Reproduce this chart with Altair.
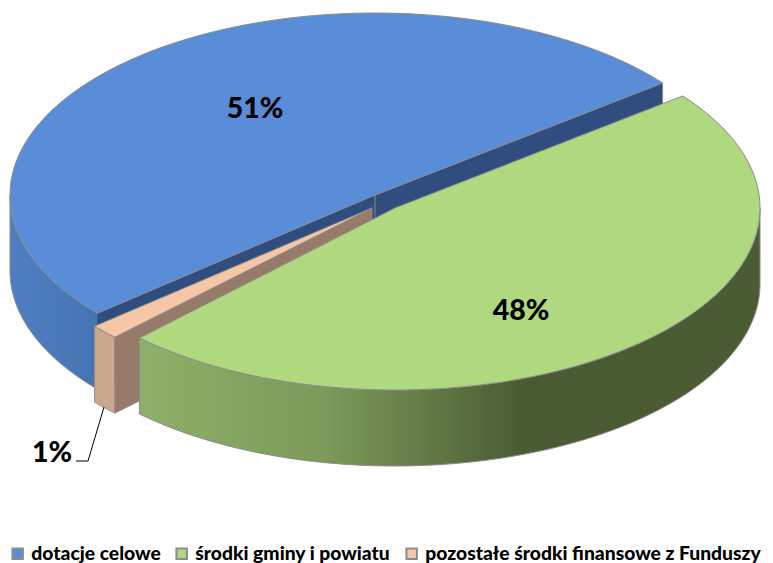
import math
import altair as alt

categories = ["dotacje celowe", "środki gminy i powiatu", "pozostałe środki finansowe z Funduszy"]
labels = ["51%", "48%", "1%"]
# shares of the circle; blue and peach run anticlockwise from the
# start angle, green runs back from a full turn (the slices are drawn apart in 3D)
blue_share = 50.7
peach_share = 1.3
green_share = 47.9

W, H = 757, 555
OX, OY = 8, 8
RX, RY, DEPTH = 365, 182, 76
START = 38.0
CENTERS = {"blue": (375, 195), "peach": (372, 208), "green": (395, 208)}

a0 = START
a1 = a0 + 3.6 * blue_share
a2 = a1 + 3.6 * peach_share
a4 = a0 + 360
a3 = a4 - 3.6 * green_share


def rim(center, a, dz=0):
    cx, cy = CENTERS[center]
    r = math.radians(a)
    return [cx + RX * math.cos(r) - OX, cy - RY * math.sin(r) - OY + dz]


def arc(center, start, end, dz=0, steps=90):
    return [rim(center, start + (end - start) * i / steps, dz) for i in range(steps + 1)]


def apex(center, dz=0):
    cx, cy = CENTERS[center]
    return [cx - OX, cy - OY + dz]


def feature(ring, name=None):
    f = {"type": "Feature", "properties": {}, "geometry": {"type": "Polygon", "coordinates": [ring + [ring[0]]]}}
    if name:
        f["name"] = name
    return f


def wedge_top(center, start, end, name):
    return feature([apex(center)] + arc(center, start, end), name)


def outer_wall(center, start, end):
    return feature(arc(center, start, end) + arc(center, end, start, DEPTH))


def cut_wall(center, a):
    return feature([apex(center), rim(center, a), rim(center, a, DEPTH), apex(center, DEPTH)])


def grad(*stops):
    return {"gradient": "linear", "x1": 0, "y1": 0, "x2": 1, "y2": 0,
            "stops": [{"offset": o, "color": c} for o, c in stops]}


proj = alt.Projection(type="identity", scale=1, translate=[0, 0])
LINE = "#8c8c8c"


def shape(features, fill, stroke=LINE, width=1):
    return alt.Chart(alt.Data(values=features)).mark_geoshape(fill=fill, stroke=stroke, strokeWidth=width)


frame = alt.Chart(alt.Data(values=[feature([[0, 0], [W, 0], [W, H], [0, H]])])).mark_geoshape(
    fill="transparent", stroke="transparent")

blue_outer = shape([outer_wall("blue", 180, a1)], grad((0, "#4f7fc2"), (1, "#4674b2")))
blue_left = shape([cut_wall("blue", a1)], "#2f4d7f", stroke="#2f4d7f", width=0.5)
blue_right = shape([cut_wall("blue", a0)], "#2f4d7f", stroke=LINE)

color = alt.Color("name:N", scale=alt.Scale(domain=categories, range=["#5a8dd8", "#afd87f", "#f6c7a6"]),
                  legend=alt.Legend(title=None, orient="none", direction="horizontal", legendX=0, legendY=536,
                                    symbolType="square", symbolSize=110, symbolStrokeColor="#8c8c8c",
                                    symbolStrokeWidth=2, symbolOpacity=1, labelFont="Lato", labelFontWeight=900,
                                    labelFontSize=19.3, labelColor="#000000", columnPadding=11, labelOffset=4,
                                    labelLimit=400))

tops = [wedge_top("blue", a0, a1, categories[0]),
        wedge_top("green", a3, a4, categories[1]),
        wedge_top("peach", a1, a2, categories[2])]


def top(i):
    return alt.Chart(alt.Data(values=[tops[i]])).mark_geoshape(stroke=LINE, strokeWidth=1).encode(color=color)


peach_front = shape([outer_wall("peach", a1, a2)], "#cba78e")
peach_side = shape([cut_wall("peach", a2)], "#977a68")
green_outer = shape([outer_wall("green", a3, 360)],
                    grad((0, "#8fb06a"), (0.3, "#7c9a5a"), (0.62, "#4a5b33"), (1, "#4b5b34")))


def label(i, x, y):
    return alt.Chart(alt.Data(values=[{"t": labels[i]}])).mark_text(
        font="Lato", fontWeight=900, fontSize=28.5, color="#000000").encode(
        x=alt.value(x - OX), y=alt.value(y - OY), text="t:N")


leader1 = alt.Chart(alt.Data(values=[{"a": 1}])).mark_rule(color="#000000", strokeWidth=1).encode(
    x=alt.value(104 - OX), x2=alt.value(88 - OX), y=alt.value(407 - OY), y2=alt.value(461 - OY))
leader2 = alt.Chart(alt.Data(values=[{"a": 1}])).mark_rule(color="#000000", strokeWidth=1).encode(
    x=alt.value(88 - OX), x2=alt.value(76 - OX), y=alt.value(461 - OY), y2=alt.value(461 - OY))

chart = alt.layer(
    frame, blue_outer, blue_left, blue_right, top(0), peach_front, peach_side, top(2),
    green_outer, top(1), leader1, leader2,
    label(0, 255, 109), label(1, 521, 311), label(2, 52, 453),
).properties(width=W, height=H, projection=proj, padding=0, autosize=alt.AutoSizeParams(type="none")
).configure_view(stroke=None)

chart.save("out.html", embed_options={"renderer": "svg", "actions": False})
